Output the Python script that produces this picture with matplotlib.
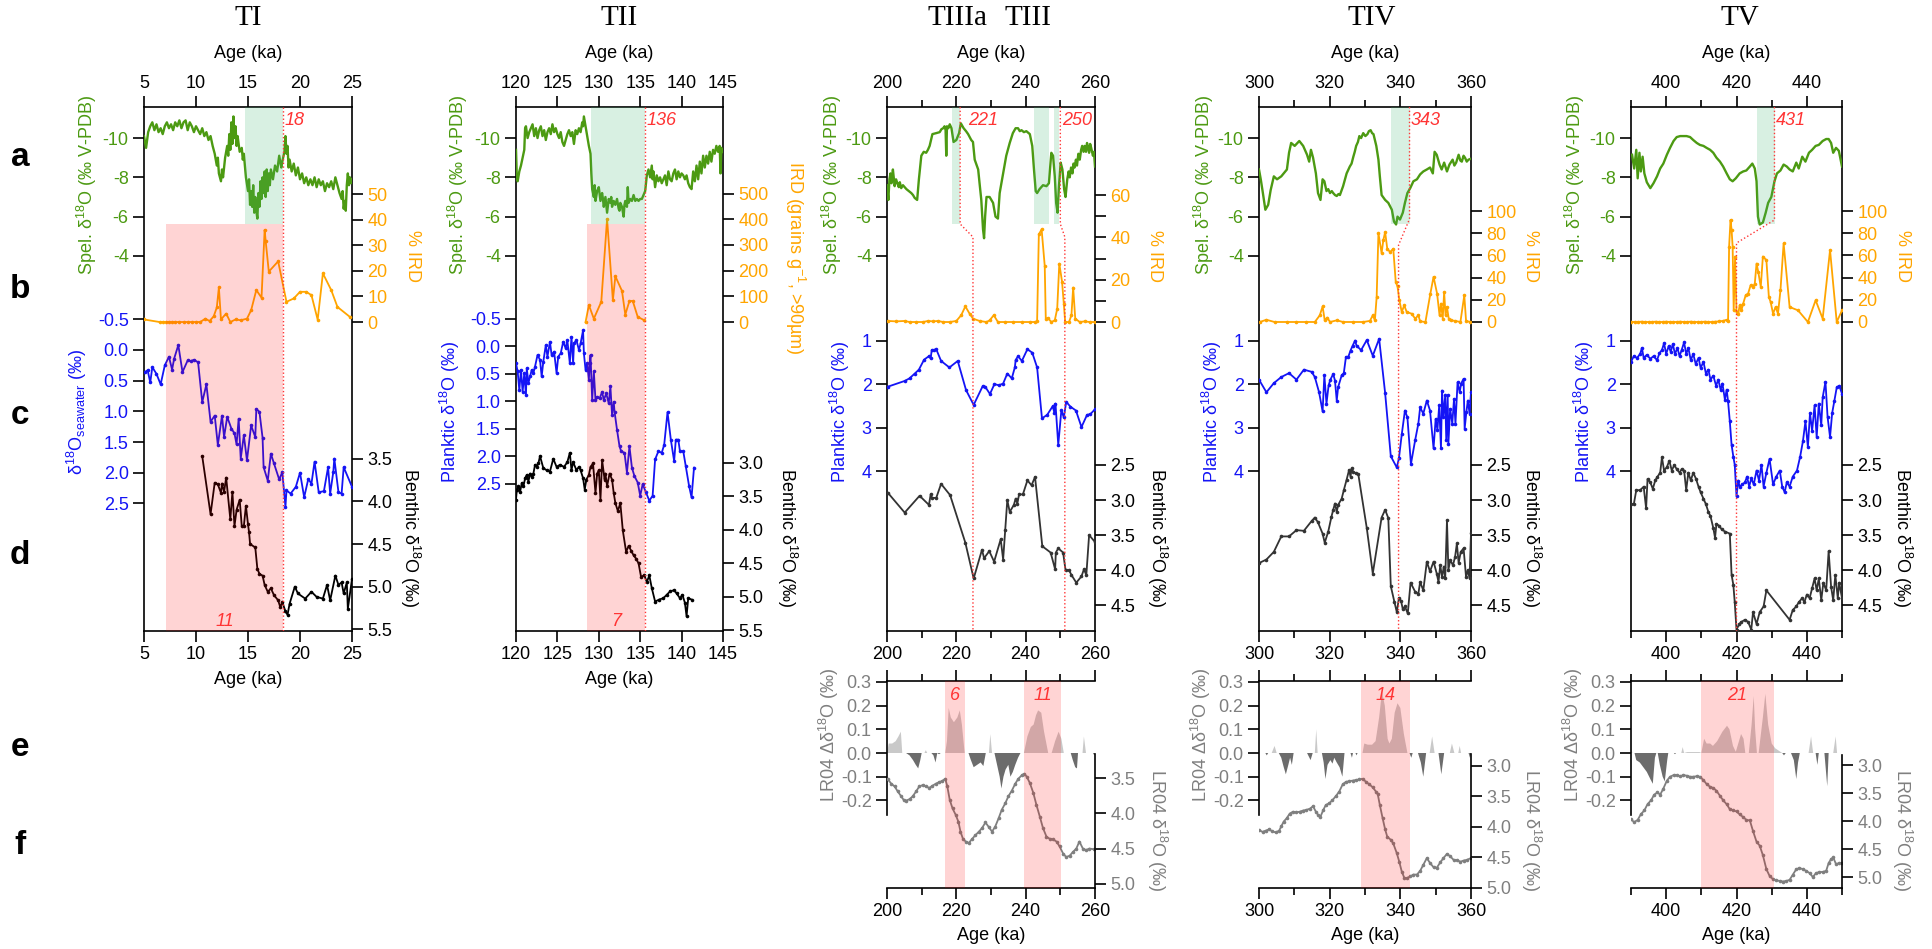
import numpy as np
import matplotlib.pyplot as plt
from matplotlib.ticker import FormatStrFormatter

plt.rcParams['font.family'] = ['Liberation Sans', 'DejaVu Sans']
plt.rcParams['mathtext.fontset'] = 'custom'
plt.rcParams['mathtext.rm'] = 'Liberation Sans'
plt.rcParams['mathtext.it'] = 'Liberation Sans:italic'
plt.rcParams['axes.unicode_minus'] = False

# ---------------- TI (5-25 ka) ----------------
ti_spel = np.array([(5.0,-10.1),(5.2,-9.5),(5.4,-10.3),(5.6,-10.6),(5.8,-10.8),(6.0,-10.4),(6.2,-10.7),(6.4,-10.3),(6.6,-10.5),(6.8,-10.2),(7.0,-10.6),(7.2,-10.8),(7.4,-10.5),(7.6,-10.7),(7.8,-10.4),(8.0,-10.8),(8.2,-10.6),(8.4,-10.9),(8.6,-10.5),(8.8,-10.8),(9.0,-10.9),(9.2,-10.4),(9.4,-10.8),(9.6,-10.6),(9.8,-10.3),(10.0,-10.6),(10.2,-10.4),(10.4,-10.2),(10.6,-10.5),(10.8,-10.1),(11.0,-10.3),(11.2,-9.9),(11.4,-10.1),(11.6,-9.6),(11.8,-9.2),(12.0,-8.6),(12.1,-9.0),(12.2,-8.2),(12.4,-7.8),(12.5,-8.4),(12.6,-8.0),(12.8,-9.0),(13.0,-9.6),(13.1,-9.1),(13.2,-10.2),(13.3,-9.4),(13.4,-10.8),(13.5,-9.7),(13.6,-11.1),(13.7,-10.0),(13.8,-10.6),(13.9,-9.6),(14.0,-10.1),(14.2,-9.3),(14.4,-9.5),(14.5,-8.9),(14.6,-9.2),(14.8,-8.0),(15.0,-7.3),(15.1,-7.9),(15.2,-6.6),(15.3,-7.3),(15.4,-6.5),(15.5,-7.6),(15.6,-6.2),(15.7,-7.0),(15.8,-6.3),(15.9,-5.9),(16.0,-7.2),(16.1,-6.5),(16.2,-7.8),(16.3,-6.9),(16.4,-8.0),(16.5,-7.2),(16.6,-8.3),(16.7,-7.0),(16.8,-8.4),(16.9,-7.3),(17.0,-8.2),(17.1,-7.6),(17.2,-8.4),(17.4,-7.9),(17.6,-8.6),(17.8,-8.3),(18.0,-9.1),(18.2,-8.5),(18.3,-8.8),(18.5,-9.3),(18.6,-10.1),(18.7,-9.2),(18.8,-9.6),(18.9,-8.5),(19.0,-8.9),(19.2,-8.3),(19.4,-8.7),(19.6,-8.1),(19.8,-8.5),(20.0,-7.9),(20.2,-8.2),(20.4,-7.7),(20.6,-8.0),(20.8,-7.6),(21.0,-7.9),(21.2,-7.6),(21.4,-8.0),(21.6,-7.5),(21.8,-7.9),(22.0,-7.6),(22.2,-7.8),(22.4,-7.3),(22.6,-7.7),(22.8,-7.5),(23.0,-7.8),(23.2,-7.4),(23.4,-8.0),(23.6,-7.6),(23.8,-7.2),(24.0,-6.9),(24.1,-7.3),(24.2,-6.4),(24.3,-6.8),(24.4,-6.3),(24.5,-7.6),(24.6,-8.2),(24.7,-7.6),(24.8,-8.0),(24.9,-7.7),(25.0,-7.9)])
ti_ird = np.array([(5.0,1),(6.5,0),(6.8,0),(7.1,0),(7.4,0),(7.7,0),(8.0,0),(8.4,0),(8.8,0),(9.2,0),(9.6,0),(10.0,0),(10.4,0),(10.9,1.3),(11.3,0.4),(11.7,2.2),(12.0,5.7),(12.2,13.5),(12.4,1),(12.9,3.3),(13.3,0),(13.8,1),(14.3,0.7),(14.9,1.3),(15.3,4.6),(15.8,12.5),(16.3,9.5),(16.6,36),(16.7,31.6),(17.0,19.7),(17.9,23.7),(18.7,7.9),(19.4,9.2),(20.0,11.8),(20.6,11.8),(21.1,10.5),(21.7,0.9),(22.2,19),(23.0,12.5),(23.6,5.9),(24.8,2)])
ti_sw = np.array([(5.1,0.36),(5.35,0.33),(5.6,0.53),(5.8,0.28),(6.2,0.39),(6.6,0.56),(7.0,0.25),(7.4,0.11),(7.7,0.32),(7.9,0.14),(8.3,-0.08),(8.7,0.36),(9.2,0.17),(9.5,0.18),(9.8,0.16),(10.2,0.2),(10.6,0.85),(11.0,0.56),(11.4,1.17),(11.8,1.07),(12.1,1.55),(12.5,1.07),(12.7,1.42),(13.0,1.09),(13.4,1.28),(13.7,1.36),(13.9,1.54),(14.1,1.12),(14.3,1.77),(14.6,1.39),(14.9,1.8),(15.3,1.23),(15.7,1.42),(15.8,0.96),(16.1,1.01),(16.4,1.43),(16.5,1.91),(16.9,2.13),(17.2,1.69),(17.5,1.85),(18.0,2.11),(18.3,1.99),(18.6,2.56),(18.7,2.29),(19.1,2.34),(19.6,2.23),(20.0,2.0),(20.4,2.4),(20.8,2.1),(21.1,2.18),(21.4,1.82),(21.8,2.32),(22.3,2.3),(22.7,1.91),(22.9,2.34),(23.2,1.99),(23.3,1.77),(23.7,2.32),(24.0,2.34),(24.2,1.91),(25.0,2.23)])
ti_ben = np.array([(10.6,3.47),(11.4,4.15),(11.8,3.78),(12.1,3.8),(12.4,3.9),(12.5,3.79),(12.7,3.89),(12.9,3.72),(13.3,4.21),(13.5,3.89),(13.7,4.29),(13.9,4.1),(14.2,3.98),(14.4,4.29),(14.6,4.29),(14.8,4.05),(15.0,4.27),(15.1,4.36),(15.2,4.5),(15.7,4.54),(15.9,4.79),(16.1,4.85),(16.4,4.87),(16.6,4.98),(16.9,5.06),(17.2,5.02),(17.5,5.1),(17.9,5.16),(18.1,5.24),(18.3,5.18),(18.6,5.29),(18.8,5.33),(19.0,5.2),(19.5,5.0),(19.8,5.08),(20.5,5.14),(21.1,5.06),(21.6,5.12),(22.2,5.14),(22.6,4.98),(22.9,5.16),(23.4,4.87),(23.7,4.98),(24.0,4.95),(24.2,5.08),(24.5,4.95),(24.6,5.26),(25.0,4.91)])

# ---------------- TII (120-145 ka) ----------------
tii_spel = np.array([(120.0,-9.4),(120.1,-8.0),(120.2,-7.8),(120.4,-8.3),(120.6,-8.6),(120.8,-9.0),(121.0,-9.4),(121.1,-10.5),(121.2,-10.6),(121.4,-10.0),(121.6,-10.3),(121.8,-10.5),(122.0,-10.7),(122.2,-10.1),(122.4,-10.5),(122.6,-10.0),(122.8,-10.4),(123.0,-10.6),(123.2,-10.1),(123.4,-10.4),(123.6,-9.9),(123.8,-10.3),(124.0,-10.5),(124.2,-10.2),(124.4,-10.7),(124.6,-10.3),(124.8,-10.5),(125.0,-10.2),(125.2,-10.0),(125.4,-10.3),(125.6,-9.8),(125.8,-9.6),(126.0,-9.9),(126.2,-10.2),(126.4,-10.4),(126.6,-10.1),(126.8,-10.3),(127.0,-9.7),(127.2,-10.4),(127.4,-10.2),(127.6,-10.5),(127.8,-10.3),(128.0,-10.8),(128.1,-10.6),(128.2,-11.1),(128.4,-10.6),(128.6,-10.1),(128.8,-9.6),(129.0,-9.2),(129.1,-8.2),(129.2,-7.4),(129.4,-7.0),(129.5,-7.6),(129.6,-6.8),(129.8,-7.3),(130.0,-7.5),(130.2,-6.8),(130.4,-7.2),(130.5,-6.9),(130.6,-6.5),(130.8,-7.0),(131.0,-6.2),(131.2,-6.9),(131.4,-6.7),(131.5,-7.0),(131.6,-6.5),(131.8,-6.8),(132.0,-6.6),(132.2,-6.9),(132.4,-6.4),(132.5,-6.3),(132.6,-6.7),(132.8,-6.5),(133.0,-6.0),(133.1,-6.6),(133.2,-6.8),(133.4,-6.5),(133.5,-7.5),(133.6,-6.7),(133.8,-6.9),(134.0,-6.8),(134.2,-7.1),(134.4,-6.8),(134.6,-6.9),(134.8,-6.8),(135.0,-6.9),(135.2,-6.9),(135.4,-7.1),(135.6,-7.3),(135.8,-8.1),(136.0,-8.4),(136.2,-8.0),(136.4,-8.6),(136.5,-7.9),(136.6,-8.3),(136.8,-7.5),(137.0,-8.1),(137.2,-7.8),(137.4,-8.0),(137.6,-7.7),(137.8,-7.9),(138.0,-8.1),(138.2,-7.6),(138.4,-8.3),(138.6,-7.9),(138.8,-7.8),(139.0,-8.2),(139.2,-8.4),(139.4,-7.9),(139.6,-8.3),(139.8,-8.0),(140.0,-8.2),(140.2,-8.1),(140.4,-7.9),(140.6,-8.1),(140.8,-7.7),(141.0,-7.5),(141.2,-7.4),(141.4,-8.3),(141.6,-7.8),(141.8,-8.6),(142.0,-7.9),(142.2,-8.8),(142.4,-8.2),(142.6,-9.1),(142.8,-8.5),(143.0,-9.1),(143.2,-8.7),(143.4,-9.3),(143.6,-8.8),(143.8,-9.4),(144.0,-9.2),(144.2,-9.6),(144.4,-9.3),(144.6,-9.6),(144.7,-8.2),(144.8,-9.5),(145.0,-9.3)])
tii_ird = np.array([(128.4,0),(128.8,66),(129.4,13),(130.3,79),(131.0,401),(131.7,85),(132.0,178),(132.8,121),(133.2,29),(133.7,82),(134.1,82),(134.7,20),(135.5,7)])
tii_plank = np.array([(120.0,0.31),(120.2,0.46),(120.4,0.8),(120.6,0.43),(120.8,0.83),(121.0,0.49),(121.2,0.89),(121.3,0.4),(121.5,0.67),(121.7,0.55),(121.9,0.43),(122.1,0.49),(122.3,0.37),(122.6,0.16),(122.9,0.25),(123.1,0.55),(123.3,0.28),(123.6,-0.02),(123.8,0.19),(124.1,-0.08),(124.3,0.16),(124.6,0.1),(124.9,0.49),(125.1,0.19),(125.4,0.13),(125.7,-0.08),(126.0,0.04),(126.2,-0.11),(126.5,0.31),(126.7,-0.17),(126.9,0.31),(127.0,-0.05),(127.3,-0.11),(127.6,0.07),(127.8,-0.05),(128.1,-0.29),(128.2,0.13),(128.4,0.43),(128.6,0.31),(128.8,0.61),(128.9,0.31),(129.0,0.16),(129.2,0.98),(129.4,0.46),(129.6,0.98),(129.8,0.92),(130.1,0.95),(130.4,0.83),(130.6,0.98),(130.9,0.86),(131.2,1.04),(131.4,0.73),(131.6,1.25),(131.8,1.01),(131.9,1.19),(132.2,1.52),(132.5,1.82),(132.7,1.91),(133.1,1.94),(133.4,2.3),(133.7,1.82),(134.0,2.21),(134.3,2.36),(134.7,2.48),(135.0,2.72),(135.3,2.51),(135.7,2.66),(136.1,2.81),(136.5,2.72),(136.8,2.06),(137.2,1.91),(137.6,1.94),(137.9,1.79),(138.3,1.2),(138.7,1.7),(139.1,2.09),(139.3,1.7),(139.6,1.7),(139.8,1.91),(140.2,1.91),(140.5,2.18),(140.9,2.54),(141.2,2.75),(141.5,2.21)])
tii_ben = np.array([(120.0,3.55),(120.1,3.4),(120.3,3.35),(120.5,3.43),(120.7,3.3),(120.9,3.35),(121.1,3.23),(121.3,3.18),(121.5,3.28),(121.7,3.16),(121.9,3.21),(122.1,3.16),(122.3,3.03),(122.5,3.06),(122.7,3.01),(122.9,2.9),(123.3,3.08),(123.7,3.11),(124.1,3.13),(124.5,2.94),(124.9,3.06),(125.3,3.03),(125.8,3.06),(126.2,2.99),(126.5,2.85),(126.7,3.11),(126.9,2.99),(127.3,3.11),(127.6,3.06),(127.8,3.11),(128.1,3.23),(128.3,3.4),(128.5,3.25),(128.8,3.18),(129.0,3.06),(129.3,3.01),(129.6,3.45),(129.8,3.16),(130.0,3.11),(130.2,3.55),(130.4,2.96),(130.7,3.25),(130.8,3.16),(131.0,3.35),(131.3,3.16),(131.6,3.25),(131.8,3.45),(132.0,3.6),(132.3,3.72),(132.6,3.6),(132.9,4.01),(133.3,4.33),(133.6,4.24),(133.9,4.31),(134.2,4.38),(134.5,4.43),(134.8,4.5),(135.1,4.7),(135.5,4.68),(135.8,4.78),(136.1,4.68),(136.4,4.87),(136.8,5.07),(137.3,5.04),(137.8,5.02),(138.2,4.97),(138.6,4.92),(139.1,4.9),(139.4,4.95),(139.8,5.02),(140.1,4.97),(140.4,5.09),(140.6,5.29),(140.8,5.02),(141.2,5.04)])

# ---------------- TIII (200-260 ka) ----------------
tiii_spel = np.array([(200.0,-7.6),(200.4,-6.85),(200.7,-7.9),(201.0,-8.2),(201.3,-7.7),(201.7,-8.4),(202.0,-7.9),(202.2,-7.55),(202.6,-7.9),(203.0,-7.7),(203.4,-7.5),(203.7,-7.75),(204.1,-7.45),(204.6,-7.6),(205.1,-7.5),(205.6,-7.4),(206.3,-7.3),(207.0,-7.2),(207.5,-7.1),(208.0,-6.95),(208.7,-6.85),(209.2,-7.9),(209.9,-9.1),(210.6,-9.3),(211.3,-9.25),(211.8,-9.4),(212.3,-9.6),(213.1,-10.2),(214.2,-10.25),(215.2,-10.3),(215.7,-10.45),(216.2,-10.5),(216.6,-10.6),(216.9,-10.4),(217.1,-9.1),(217.3,-10.6),(217.7,-10.5),(218.1,-10.7),(218.6,-10.5),(219.2,-9.8),(220.0,-9.9),(220.8,-10.25),(221.3,-10.75),(222.1,-10.5),(222.8,-10.35),(223.4,-10.2),(224.3,-9.9),(224.8,-9.8),(225.3,-8.9),(226.3,-8.4),(226.7,-7.7),(227.2,-6.85),(227.7,-5.35),(228.0,-4.9),(228.3,-6.0),(228.7,-7.0),(229.6,-7.0),(230.6,-6.7),(231.3,-6.0),(232.0,-5.9),(232.5,-7.2),(233.5,-8.2),(234.4,-9.1),(235.4,-9.75),(236.3,-10.25),(237.1,-10.5),(237.8,-10.5),(238.3,-10.35),(238.8,-10.4),(239.5,-10.3),(240.2,-10.35),(241.2,-10.2),(241.9,-9.6),(242.4,-8.4),(242.9,-7.3),(243.3,-7.2),(244.0,-7.4),(245.0,-7.6),(246.0,-7.55),(246.7,-7.7),(247.4,-9.25),(247.9,-9.1),(248.4,-8.05),(248.8,-6.7),(249.2,-6.2),(249.6,-7.55),(250.1,-8.75),(250.6,-8.4),(251.1,-7.4),(251.5,-7.0),(252.0,-7.9),(252.4,-8.3),(252.7,-8.0),(253.1,-8.5),(253.5,-8.2),(253.8,-8.7),(254.1,-8.5),(254.5,-8.9),(254.8,-8.6),(255.2,-9.2),(255.6,-8.9),(256.0,-9.4),(256.3,-9.6),(256.7,-9.3),(257.0,-9.6),(257.4,-9.3),(257.7,-9.75),(258.0,-9.5),(258.3,-9.25),(258.6,-9.7),(258.9,-9.5),(259.4,-9.1),(259.7,-9.3),(260.0,-8.55)])
tiii_ird = np.array([(200.3,0.5),(202.7,0.3),(205.1,0.5),(206.5,0),(208.5,0),(210.4,0),(211.8,0.5),(213.3,0.3),(214.7,0.5),(216.2,0),(218.1,0),(220.0,0.5),(221.4,3.2),(222.6,7.4),(223.8,4),(224.8,1.6),(226.7,0.5),(228.7,0),(229.6,0.8),(230.8,3.2),(232.0,0),(233.9,0),(236.3,0),(238.8,0),(241.2,0),(242.6,0),(243.3,0.3),(243.8,41.4),(244.6,43.8),(245.5,26.5),(245.8,1.6),(246.4,1.9),(247.4,0),(248.4,0.8),(249.1,6.3),(249.7,27.6),(250.5,19),(251.0,8.7),(251.4,0),(252.5,0),(253.2,3.2),(253.7,16.3),(254.3,1.6),(255.6,0),(257.0,0.3),(258.5,0),(260.0,0)])
tiii_plank = np.array([(200.3,2.05),(205.1,1.92),(206.5,1.86),(208.0,1.75),(209.2,1.66),(210.7,1.43),(212.1,1.35),(212.6,1.4),(212.9,1.21),(213.5,1.21),(214.2,1.19),(215.6,1.46),(218.0,1.61),(220.4,1.46),(222.8,2.13),(225.0,2.47),(227.6,2.04),(228.3,2.05),(229.7,2.22),(231.0,1.99),(232.2,2.02),(233.5,1.98),(234.7,1.75),(236.0,1.86),(236.9,1.6),(237.1,1.44),(237.8,1.35),(238.9,1.46),(240.5,1.19),(241.9,1.27),(243.3,1.61),(244.7,2.78),(246.2,2.7),(247.8,2.5),(248.3,2.66),(248.6,2.44),(249.4,3.39),(250.3,2.59),(251.0,2.76),(251.7,2.4),(252.9,2.51),(254.5,2.6),(256.1,2.98),(257.7,2.7),(258.7,2.68),(260.0,2.57)])
tiii_ben = np.array([(200.3,2.9),(205.1,3.18),(209.4,2.94),(212.1,3.07),(212.6,2.92),(213.0,2.97),(214.2,2.97),(215.6,2.77),(218.2,2.93),(222.6,3.61),(225.0,4.12),(227.4,3.71),(228.0,3.83),(229.5,3.73),(230.9,3.88),(232.8,3.56),(233.5,3.85),(234.1,3.43),(234.7,3.0),(235.4,3.17),(236.6,3.07),(237.1,2.98),(237.6,3.05),(238.1,2.92),(239.2,2.92),(240.5,2.72),(241.7,2.79),(242.7,2.67),(244.8,3.66),(247.2,3.75),(248.5,3.99),(248.7,3.75),(249.4,3.69),(250.8,3.75),(251.5,4.0),(252.5,4.0),(253.2,4.07),(254.6,4.18),(256.1,4.09),(256.8,3.99),(257.5,4.07),(258.3,3.5),(260.0,3.6)])
tiii_lr04 = np.array([(200.3,3.52),(201.2,3.58),(202.2,3.62),(203.1,3.69),(204.1,3.76),(204.8,3.81),(205.5,3.82),(206.5,3.8),(207.4,3.76),(208.4,3.69),(209.3,3.62),(210.3,3.6),(211.2,3.62),(212.2,3.64),(213.1,3.61),(214.1,3.58),(215.0,3.56),(216.0,3.54),(216.8,3.51),(217.4,3.62),(218.1,3.81),(218.9,3.93),(219.8,4.02),(220.6,4.12),(221.2,4.26),(221.9,4.36),(222.7,4.4),(223.6,4.42),(224.6,4.36),(225.5,4.31),(226.5,4.26),(227.4,4.21),(228.4,4.13),(229.3,4.19),(230.3,4.26),(231.2,4.19),(232.2,4.07),(233.1,3.95),(234.1,3.86),(235.0,3.76),(236.0,3.68),(237.0,3.58),(237.9,3.51),(238.9,3.46),(239.6,3.44),(240.3,3.48),(241.2,3.57),(242.2,3.71),(243.1,3.88),(244.1,4.05),(245.0,4.21),(246.0,4.33),(246.9,4.36),(247.9,4.37),(248.9,4.4),(249.8,4.47),(250.8,4.57),(251.7,4.62),(252.7,4.6),(253.6,4.55),(254.6,4.5),(255.5,4.4),(256.5,4.5),(257.4,4.52),(258.4,4.5),(259.8,4.51)])
tiii_delta = np.array([(200.0,0.0),(200.5,0.04),(201.5,0.04),(202.5,0.05),(203.3,0.07),(204.0,0.09),(204.4,0.0),(205.5,0.0),(206.5,-0.01),(207.5,-0.03),(208.3,-0.05),(209.0,-0.065),(209.6,-0.03),(210.0,0.0),(210.8,0.0),(211.2,0.012),(211.6,0.0),(212.8,0.0),(213.4,-0.01),(214.0,-0.04),(214.5,0.0),(215.0,-0.005),(215.5,0.0),(216.8,0.0),(217.3,0.05),(217.8,0.19),(218.4,0.15),(219.3,0.13),(220.3,0.15),(221.0,0.18),(221.6,0.12),(222.4,0.0),(223.5,0.0),(224.2,-0.03),(225.0,-0.06),(226.0,-0.05),(227.0,-0.04),(227.8,-0.055),(228.5,0.0),(229.4,0.0),(229.8,0.08),(230.3,0.0),(231.0,0.0),(231.6,-0.04),(232.5,-0.1),(233.0,-0.15),(233.6,-0.1),(234.2,-0.07),(235.0,-0.05),(235.6,-0.1),(236.3,-0.08),(237.0,-0.05),(237.8,-0.02),(238.5,0.0),(239.5,0.0),(240.5,0.07),(241.5,0.11),(242.3,0.12),(243.0,0.16),(243.6,0.18),(244.5,0.17),(245.3,0.09),(246.5,0.0),(247.5,0.0),(248.5,0.05),(249.5,0.09),(250.3,0.06),(251.0,0.0),(253.0,0.0),(253.6,-0.03),(254.3,-0.06),(254.8,-0.065),(255.1,0.0),(256.4,0.0),(256.8,0.07),(257.4,0.0),(259.4,0.0),(259.8,-0.01),(260.0,0.0)])

# ---------------- TIV (300-360 ka) ----------------
tiv_spel = np.array([(300.0,-8.4),(300.5,-7.9),(301.1,-7.2),(301.8,-6.35),(302.6,-6.6),(303.3,-7.35),(304.2,-8.05),(305.1,-7.9),(306.3,-8.05),(307.9,-8.4),(308.5,-9.25),(309.1,-9.75),(310.1,-9.6),(311.4,-9.85),(312.5,-9.6),(313.6,-9.15),(314.2,-8.8),(314.7,-9.4),(315.3,-9.0),(316.1,-8.2),(316.7,-7.2),(317.4,-6.85),(318.0,-7.9),(318.5,-7.8),(319.1,-7.3),(319.6,-7.4),(320.1,-7.2),(320.6,-7.3),(321.0,-7.2),(321.5,-7.1),(322.0,-7.05),(322.5,-7.15),(322.9,-7.1),(323.8,-7.55),(324.8,-8.2),(325.7,-8.55),(326.2,-8.7),(326.7,-9.05),(327.1,-9.3),(327.5,-9.6),(328.0,-9.8),(328.4,-10.1),(328.9,-10.0),(329.5,-10.25),(330.1,-10.1),(330.7,-10.2),(331.1,-10.35),(331.6,-10.4),(332.0,-10.25),(332.4,-10.2),(333.2,-9.6),(333.8,-8.9),(334.2,-8.05),(334.7,-7.1),(335.7,-6.85),(336.6,-6.7),(337.6,-6.35),(338.2,-5.75),(338.8,-5.6),(339.2,-6.0),(339.9,-5.85),(340.7,-6.2),(341.3,-6.7),(342.0,-7.2),(342.8,-7.45),(343.7,-7.8),(344.7,-7.9),(345.6,-8.15),(346.5,-8.3),(347.5,-8.4),(348.4,-8.5),(349.2,-8.2),(349.7,-9.3),(350.3,-9.15),(351.1,-8.65),(351.7,-8.4),(352.4,-8.75),(353.2,-8.3),(353.9,-8.65),(354.8,-8.9),(355.3,-8.6),(355.8,-8.75),(356.5,-9.15),(357.0,-8.85),(357.4,-8.8),(357.9,-9.1),(358.3,-9.0),(358.8,-8.8),(359.3,-8.9),(360.0,-8.95)])
tiv_ird = np.array([(300.2,0),(302.1,2),(304.4,0),(307.8,0),(310.6,0),(313.4,0),(315.8,0),(317.2,6),(318.0,14),(318.6,1.5),(319.3,4),(320.1,0),(322.0,1.5),(323.8,0),(326.7,0),(329.5,0),(331.4,1),(332.2,6),(332.8,1.5),(333.3,22.6),(333.8,80),(334.7,62),(335.2,74),(335.7,81),(336.3,66),(337.1,63),(338.0,66),(338.7,36),(339.2,32),(339.7,20),(340.4,9),(341.1,15),(341.8,9),(343.2,7.5),(344.2,3),(345.1,6),(345.6,0.6),(347.1,0),(348.5,25.6),(349.4,40.7),(350.4,25.6),(351.1,6),(351.5,16.6),(352.0,3),(352.4,27),(352.8,6),(353.2,13.5),(353.7,3),(354.3,1.5),(355.5,1),(357.0,0),(358.1,24),(358.6,1),(359.8,0)])
tiv_plank = np.array([(300.0,1.89),(302.1,2.18),(304.2,1.97),(306.3,1.83),(308.5,1.74),(310.6,1.89),(312.7,1.66),(314.9,1.71),(315.8,1.83),(317.0,2.18),(318.0,2.62),(318.5,1.79),(319.1,2.44),(319.7,2.02),(320.2,1.89),(321.0,1.76),(321.5,1.91),(322.0,2.37),(322.4,2.06),(323.4,1.79),(324.0,1.74),(324.6,1.37),(325.3,1.36),(325.9,1.22),(326.5,1.11),(327.2,0.99),(327.6,1.11),(328.9,1.21),(330.5,0.98),(332.2,1.34),(334.0,0.95),(335.7,2.2),(337.3,3.65),(339.0,3.91),(339.6,3.7),(340.4,3.15),(341.3,2.6),(342.0,2.76),(343.0,3.83),(344.2,3.28),(345.1,2.9),(345.6,2.53),(346.5,2.67),(347.5,2.37),(348.4,2.6),(349.4,3.47),(350.0,2.79),(350.5,3.05),(351.0,2.48),(351.5,3.47),(351.8,2.14),(352.2,2.75),(352.7,2.25),(353.0,3.28),(353.4,2.25),(353.6,3.36),(354.1,2.56),(354.7,2.9),(355.2,2.33),(355.6,2.9),(356.2,1.95),(356.8,2.18),(357.2,1.98),(357.9,1.87),(358.2,3.02),(358.7,2.63),(359.1,2.37),(359.6,2.67),(360.0,2.18)])
tiv_ben = np.array([(300.0,3.9),(302.1,3.85),(304.2,3.74),(306.3,3.52),(308.5,3.52),(310.6,3.43),(312.7,3.44),(314.9,3.3),(315.8,3.25),(316.7,3.32),(318.0,3.48),(318.6,3.61),(319.6,3.45),(320.5,3.24),(321.0,3.14),(321.5,3.05),(322.0,3.17),(322.4,3.07),(323.4,2.98),(324.0,2.86),(324.8,2.71),(325.5,2.57),(325.9,2.67),(326.2,2.55),(326.7,2.6),(327.5,2.62),(328.1,2.63),(330.5,3.4),(332.2,4.05),(334.7,3.25),(335.7,3.14),(336.6,3.26),(337.3,4.23),(338.3,4.45),(339.0,4.6),(339.6,4.4),(340.2,4.44),(340.7,4.56),(341.3,4.52),(342.1,4.62),(342.9,4.18),(344.2,4.31),(345.1,4.34),(345.6,4.17),(346.5,4.29),(347.5,3.88),(348.4,4.02),(349.4,3.88),(350.3,4.05),(350.8,4.17),(351.3,3.93),(351.8,4.1),(352.3,3.95),(352.7,4.12),(353.2,3.29),(353.6,4.0),(354.1,3.86),(354.9,3.93),(355.5,3.81),(356.0,3.62),(356.5,3.9),(357.1,3.74),(357.9,3.69),(358.6,4.1),(359.1,4.0),(359.6,4.12),(360.0,3.47)])
tiv_lr04 = np.array([(300.0,4.05),(301.0,4.08),(301.9,4.06),(302.8,4.04),(303.8,4.07),(304.7,4.09),(305.7,4.06),(306.3,3.99),(307.0,3.91),(307.8,3.86),(308.7,3.78),(309.6,3.75),(310.6,3.76),(311.5,3.75),(312.5,3.73),(313.4,3.72),(314.4,3.7),(315.3,3.66),(316.1,3.75),(316.7,3.8),(317.4,3.83),(318.2,3.72),(318.9,3.64),(319.9,3.61),(320.8,3.56),(321.8,3.49),(322.7,3.42),(323.7,3.3),(324.6,3.26),(325.5,3.25),(326.5,3.24),(327.4,3.23),(328.4,3.22),(329.3,3.21),(330.3,3.26),(331.2,3.3),(332.2,3.35),(333.1,3.42),(333.6,3.46),(334.2,3.64),(335.0,3.86),(335.7,4.04),(336.3,4.16),(337.3,4.21),(338.0,4.27),(339.0,4.43),(339.7,4.57),(340.4,4.73),(341.1,4.83),(341.8,4.84),(342.8,4.81),(343.7,4.78),(344.7,4.78),(345.6,4.72),(346.5,4.62),(347.5,4.51),(348.4,4.59),(349.4,4.66),(350.3,4.67),(351.3,4.58),(352.2,4.51),(353.2,4.44),(354.1,4.48),(355.1,4.54),(356.0,4.54),(357.0,4.57),(357.9,4.55),(358.8,4.54),(360.0,4.51)])
tiv_delta = np.array([(300.0,0.0),(301.8,0.0),(302.2,-0.01),(302.6,0.0),(303.6,0.0),(304.4,0.03),(305.0,0.0),(305.6,0.0),(306.3,-0.02),(307.0,-0.06),(307.6,-0.09),(308.3,-0.05),(308.8,-0.02),(309.3,-0.05),(309.8,0.0),(313.6,0.0),(314.6,-0.03),(315.2,0.0),(315.8,0.0),(316.2,0.1),(316.6,0.0),(317.8,0.0),(318.3,-0.04),(318.8,-0.11),(319.4,-0.05),(320.2,-0.03),(320.8,-0.045),(321.3,-0.02),(322.0,-0.04),(322.8,-0.06),(323.6,-0.1),(324.2,0.0),(325.9,0.0),(326.3,-0.02),(326.6,0.0),(327.3,0.0),(327.6,-0.01),(327.9,0.0),(329.3,0.0),(329.8,0.04),(330.8,0.035),(332.0,0.035),(333.0,0.05),(334.0,0.15),(334.8,0.26),(335.6,0.2),(336.4,0.06),(336.9,0.04),(337.6,0.06),(338.4,0.17),(339.2,0.21),(340.0,0.19),(341.0,0.08),(342.0,0.0),(342.6,0.0),(343.1,-0.02),(343.5,0.0),(345.0,0.0),(345.8,-0.04),(346.5,-0.1),(347.3,0.0),(348.3,0.0),(349.0,0.07),(349.7,0.0),(350.8,0.0),(351.6,-0.09),(352.4,0.0),(354.0,0.0),(354.6,0.04),(355.3,0.0),(356.4,0.0),(356.8,0.03),(357.2,0.0),(359.3,0.0),(359.7,-0.02),(360.0,0.0)])

# ---------------- TV (390-450 ka) ----------------
tv_spel = np.array([(390.3,-9.15),(390.9,-8.45),(391.5,-9.4),(391.9,-7.95),(392.4,-9.25),(392.8,-8.3),(393.3,-9.05),(393.8,-8.2),(394.5,-7.75),(395.5,-7.45),(396.4,-7.7),(397.4,-8.05),(398.3,-8.45),(399.2,-8.7),(400.2,-9.15),(401.1,-9.5),(402.1,-9.85),(403.0,-10.05),(404.0,-10.1),(404.9,-10.1),(405.8,-10.1),(406.8,-10.05),(407.7,-9.9),(408.7,-9.75),(409.6,-9.65),(410.6,-9.6),(411.5,-9.5),(412.5,-9.4),(413.4,-9.25),(414.3,-9.0),(415.3,-8.8),(416.2,-8.55),(417.2,-8.2),(418.1,-7.9),(418.9,-7.8),(419.8,-7.95),(420.9,-8.2),(421.9,-8.3),(422.8,-8.35),(423.8,-8.55),(424.5,-8.7),(425.2,-8.45),(425.7,-7.8),(426.1,-6.0),(426.6,-5.6),(427.5,-5.7),(428.3,-6.2),(429.0,-6.7),(429.9,-7.0),(430.8,-7.8),(431.5,-8.2),(432.5,-8.35),(433.4,-8.65),(434.3,-8.55),(435.1,-8.4),(436.0,-8.3),(437.0,-8.75),(437.7,-8.45),(438.7,-9.05),(439.6,-8.8),(440.6,-9.25),(441.5,-9.4),(442.5,-9.6),(443.4,-9.65),(444.5,-9.85),(445.5,-9.95),(446.2,-9.95),(446.9,-9.75),(447.5,-9.25),(448.3,-9.5),(449.1,-9.35),(450.0,-8.55)])
tv_ird = np.array([(390.0,0),(391.0,0),(392.0,0),(393.0,0.3),(394.0,0),(395.0,0),(396.0,0),(397.0,0.3),(398.0,0),(399.0,0),(400.0,0.3),(401.0,0),(402.0,0),(403.0,0),(404.0,0.3),(405.0,0),(406.0,0),(407.0,0.3),(408.0,0),(409.0,0),(410.0,0),(411.0,0.3),(412.0,0),(413.0,0),(414.0,0.3),(415.0,0.5),(416.2,1),(417.2,2),(417.6,1),(417.9,68),(418.3,92),(418.6,83),(418.9,68),(419.2,10.5),(419.6,59),(420.0,9),(420.5,7.5),(420.9,15),(421.4,10.5),(421.9,16.6),(422.6,24),(423.3,25.6),(424.0,33),(424.7,31.6),(425.2,34.6),(425.7,52.7),(426.2,45),(426.9,31.6),(427.5,59),(428.5,55.7),(429.2,22.6),(429.7,18),(430.4,7.5),(431.1,13.5),(431.8,7.5),(432.5,28.6),(433.4,70.8),(435.1,13.5),(437.5,10.5),(440.3,0),(442.5,19.6),(444.5,3),(446.6,64.8),(448.5,0),(450.0,10.5)])
tv_plank = np.array([(390.0,1.48),(390.8,1.35),(391.7,1.39),(392.6,1.3),(393.1,1.16),(393.6,1.39),(394.5,1.32),(395.5,1.41),(396.4,1.35),(397.4,1.44),(398.1,1.28),(398.8,1.21),(399.4,1.05),(400.0,1.3),(400.7,1.12),(401.3,1.25),(401.9,1.07),(402.5,1.3),(403.2,1.16),(403.8,1.35),(404.4,1.21),(405.1,1.03),(405.7,1.3),(406.3,1.16),(407.0,1.44),(407.7,1.3),(408.4,1.53),(409.2,1.39),(409.8,1.62),(410.6,1.48),(411.3,1.75),(412.0,1.66),(412.6,1.89),(413.4,1.8),(414.2,2.03),(414.8,1.89),(415.5,2.12),(416.0,1.98),(416.7,2.35),(417.2,2.12),(417.6,2.39),(418.1,2.85),(418.6,3.39),(419.1,3.66),(419.5,3.85),(420.0,4.57),(420.5,4.21),(420.9,4.35),(421.7,4.3),(422.4,4.25),(423.0,4.12),(423.6,4.35),(424.2,4.16),(424.9,4.3),(425.7,3.98),(426.4,4.21),(427.1,3.85),(427.7,4.35),(428.5,4.03),(429.4,3.71),(430.4,4.3),(431.3,4.12),(432.3,3.98),(433.0,4.35),(433.7,4.48),(434.3,4.25),(435.1,4.35),(436.0,4.12),(437.2,3.98),(438.1,3.66),(438.9,3.3),(439.6,2.85),(440.3,3.44),(440.9,2.66),(441.5,3.07),(442.2,2.48),(442.8,3.21),(443.4,2.44),(444.1,2.94),(444.5,2.3),(445.3,1.94),(445.9,2.75),(446.6,3.21),(447.2,2.66),(447.8,2.39),(448.5,2.07),(449.2,2.03),(450.0,2.21)])
tv_ben = np.array([(390.0,3.06),(390.8,3.06),(391.5,2.86),(392.6,2.86),(393.6,2.81),(394.3,3.12),(394.7,2.7),(395.5,2.75),(396.2,2.84),(396.9,2.72),(397.5,2.67),(398.3,2.61),(398.8,2.39),(399.4,2.58),(400.2,2.53),(400.9,2.44),(401.6,2.58),(402.3,2.5),(403.0,2.56),(403.8,2.61),(404.4,2.56),(405.1,2.58),(405.7,2.86),(406.3,2.61),(407.0,2.72),(407.7,2.61),(408.5,2.7),(409.2,2.81),(409.8,2.89),(410.6,2.98),(411.3,3.06),(412.0,3.17),(412.6,3.23),(413.4,3.4),(413.9,3.54),(414.3,3.34),(415.1,3.37),(415.8,3.42),(416.7,3.45),(418.1,3.48),(418.6,4.07),(419.1,4.21),(419.5,4.46),(420.0,4.85),(420.8,4.77),(421.4,4.74),(422.4,4.71),(423.3,4.74),(424.2,4.85),(424.7,4.6),(425.7,4.77),(426.6,4.6),(427.7,4.52),(428.5,4.29),(435.1,4.71),(436.0,4.57),(437.0,4.52),(437.7,4.46),(438.7,4.4),(439.3,4.46),(440.0,4.35),(440.8,4.4),(441.5,4.26),(442.2,4.12),(442.8,4.29),(443.4,4.12),(444.1,4.43),(444.7,4.18),(445.5,4.29),(446.2,3.73),(446.9,4.24),(447.5,4.43),(448.1,4.07),(448.8,4.4),(449.2,4.18),(450.0,4.4)])
tv_lr04 = np.array([(390.0,3.97),(390.9,4.02),(391.9,3.98),(392.8,3.88),(393.8,3.81),(394.7,3.7),(395.7,3.63),(396.6,3.53),(397.5,3.49),(398.3,3.53),(399.2,3.42),(400.2,3.28),(401.1,3.21),(402.1,3.18),(403.0,3.18),(404.0,3.2),(404.9,3.18),(405.8,3.19),(406.8,3.21),(407.7,3.21),(408.7,3.2),(409.6,3.21),(410.6,3.27),(411.5,3.34),(412.5,3.39),(413.4,3.41),(414.3,3.46),(415.3,3.55),(416.2,3.63),(417.2,3.7),(418.1,3.79),(419.1,3.81),(420.0,3.83),(420.9,3.88),(421.9,3.93),(422.8,3.98),(423.8,3.99),(424.7,4.18),(425.7,4.37),(426.6,4.44),(427.5,4.61),(428.5,4.86),(429.4,4.98),(430.4,5.04),(431.3,5.06),(432.3,5.07),(433.2,5.08),(434.2,5.07),(435.1,5.05),(436.0,4.96),(437.0,4.86),(437.9,4.84),(438.9,4.86),(439.8,4.89),(440.8,4.93),(441.7,5.0),(442.6,4.93),(443.6,4.91),(444.5,4.91),(445.5,4.89),(446.2,4.75),(446.9,4.68),(447.5,4.65),(448.3,4.77),(449.2,4.75),(450.0,4.75)])
tv_delta = np.array([(390.0,0.02),(390.4,0.0),(391.0,0.0),(391.5,-0.03),(392.5,-0.04),(393.5,-0.06),(394.5,-0.08),(395.5,-0.11),(396.2,-0.13),(396.8,-0.02),(397.2,0.0),(397.6,0.0),(398.2,-0.05),(399.0,-0.1),(399.6,-0.12),(400.3,-0.03),(400.6,0.0),(402.2,0.0),(402.5,-0.005),(402.8,0.0),(404.3,0.0),(404.7,0.025),(405.1,0.0),(406.0,0.004),(409.5,0.004),(410.0,0.0),(410.8,0.06),(411.5,0.04),(412.5,0.04),(413.3,0.03),(414.5,0.05),(416.0,0.09),(417.3,0.115),(418.0,0.1),(419.0,0.03),(419.8,0.005),(420.5,0.04),(421.3,0.08),(422.0,0.06),(422.5,0.0),(423.5,0.0),(424.3,0.12),(424.9,0.24),(425.3,0.1),(425.8,0.0),(426.3,0.0),(427.5,0.15),(428.2,0.25),(429.0,0.12),(430.0,0.04),(431.0,0.02),(432.0,0.01),(433.0,0.0),(433.5,-0.01),(434.0,0.0),(435.5,0.0),(436.3,-0.03),(437.0,-0.11),(437.5,-0.04),(438.0,0.0),(440.5,0.0),(441.2,0.07),(441.8,0.0),(442.5,0.0),(443.0,-0.05),(443.4,0.0),(445.0,0.0),(445.8,-0.14),(446.2,0.0),(447.5,0.0),(448.2,0.07),(448.6,0.0),(450.0,0.0)])

# onset ages (red dotted lines) and shaded intervals
onsets = [18.33, 135.58, 221.1, 250.0, 342.6, 430.8]
onset_lower = [18.33, 135.58, 224.8, 251.3, 339.5, 420.0]
green_bands = {'TI': [(14.74, 18.33)], 'TII': [(129.07, 135.58)],
               'TIII': [(218.8, 221.0), (242.4, 246.6), (248.3, 249.6)],
               'TIV': [(337.3, 342.6)], 'TV': [(425.7, 430.9)]}
pink_main = {'TI': (7.15, 18.33), 'TII': (128.55, 135.58)}
pink_lower = {'TIII': [(216.6, 222.4), (239.4, 250.3)], 'TIV': [(329.0, 342.8)], 'TV': [(409.9, 430.7)]}

GREEN = '#4c9a12'
ORANGE = '#ffa500'
BLUE = '#1414f5'
RED = '#ff3434'
GREY = '#7f7f7f'
FS = 13

W, H = 1932, 949
fig = plt.figure(figsize=(W / 100, H / 100), dpi=100)


def box(x0, y0, x1, y1):
    return [x0 / W, 1 - y1 / H, (x1 - x0) / W, (y1 - y0) / H]


def ftext(x, y, s, color='black', rot=0, size=FS, **kw):
    fig.text(x / W, 1 - y / H, s, color=color, rotation=rot, fontsize=size,
             ha='center', va='center', **kw)


def frame(x0, y0, x1, y1, xlim, xmaj, xmin, labeltop=True):
    ax = fig.add_axes(box(x0, y0, x1, y1))
    ax.set_xticks(xmaj)
    ax.set_xticks(xmin, minor=True)
    ax.set_xlim(*xlim)
    ax.set_ylim(0, 1)
    ax.set_yticks([])
    ax.tick_params(axis='x', which='both', direction='out', top=True, bottom=True,
                   labeltop=labeltop, labelbottom=True, width=1.2, labelsize=FS, pad=3)
    ax.tick_params(axis='x', which='major', length=8)
    ax.tick_params(axis='x', which='minor', length=5)
    for s in ax.spines.values():
        s.set_linewidth(1.2)
    return ax


def twin(ax, ylim, ticks, side, labelcolor, fmt=None, minor=None, bounds=None):
    t = ax.twinx()
    for s in t.spines.values():
        s.set_visible(False)
    if side == 'left':
        t.yaxis.tick_left()
    else:
        t.yaxis.tick_right()
    t.set_yticks(ticks)
    if minor is not None:
        t.set_yticks(minor, minor=True)
    if fmt:
        t.yaxis.set_major_formatter(FormatStrFormatter(fmt))
    t.set_ylim(*ylim)
    t.tick_params(axis='y', which='both', direction='out', width=1.2, length=8,
                  labelsize=FS, labelcolor=labelcolor, pad=3)
    if bounds is not None:
        sp = t.spines[side]
        sp.set_visible(True)
        sp.set_linewidth(1.2)
        sp.set_bounds(*bounds)
    return t


def overlay(ax):
    t = ax.twinx()
    t.set_ylim(0, 1)
    t.set_yticks([])
    for s in t.spines.values():
        s.set_visible(False)
    return t


def line(ax, d, color, marker=True, lw=1.3):
    ax.plot(d[:, 0], d[:, 1], color=color, lw=lw, marker='o' if marker else None,
            ms=2.6, mew=0)


SPEL_LIM = (15.09, -11.58)
SPEL_TICKS = [-10, -8, -6, -4]
GB_SPLIT = (631 - 224) / 524.0


def main_column(x0, x1, xlim, xmaj, xmin, spel, ird, ird_lim, ird_ticks, ird_minor,
                plank, pl_lim, pl_ticks, pl_fmt, ben, ben_lim, ben_ticks, ben_color,
                key, bottom_label):
    ax = frame(x0, 107, x1, 631, xlim, xmaj, xmin)
    a_sp = twin(ax, SPEL_LIM, SPEL_TICKS, 'left', GREEN)
    line(a_sp, spel, GREEN, marker=False, lw=1.7)
    a_ird = twin(ax, ird_lim, ird_ticks, 'right', ORANGE, minor=ird_minor)
    line(a_ird, ird, ORANGE)
    a_pl = twin(ax, pl_lim, pl_ticks, 'left', BLUE, fmt=pl_fmt)
    line(a_pl, plank, BLUE)
    a_be = twin(ax, ben_lim, ben_ticks, 'right', 'black', fmt='%.1f')
    line(a_be, ben, ben_color)
    sh = overlay(ax)
    for a, b in green_bands[key]:
        sh.axvspan(a, b, ymin=GB_SPLIT, ymax=1, color='#3fb46e', alpha=0.2, lw=0)
    if key in pink_main:
        a, b = pink_main[key]
        sh.axvspan(a, b, ymin=0, ymax=GB_SPLIT, color='red', alpha=0.17, lw=0)
        sh.text((a + b) / 2, 0.018, f'{round(b - a)}', color=RED, style='italic',
                fontsize=FS, ha='center', va='center')
    cx = (x0 + x1) / 2
    ftext(cx, 53, 'Age (ka)')
    if bottom_label:
        ftext(cx, 679, 'Age (ka)')
    return sh


def onset_line(sh, top, low, y_break, y_join, text_dx):
    sh.plot([top, top, low, low], [1, y_break, y_join, 0], color=RED, ls=':', lw=1.0)
    sh.text(top + text_dx, 0.975, f'{round(top)}', color=RED, style='italic',
            fontsize=FS, ha='left', va='center')


def lower_column(x0, x1, xlim, xmaj, xmin, delta, lr04, lr_lim, lr_ticks, lr_bounds, key):
    ax = frame(x0, 681, x1, 888, xlim, xmaj, xmin, labeltop=False)
    ax.spines['left'].set_visible(False)
    ax.spines['right'].set_visible(False)
    a_d = twin(ax, (-0.570, 0.304), [-0.2, -0.1, 0.0, 0.1, 0.2, 0.3], 'left', GREY,
               fmt='%.1f', bounds=(-0.26, 0.304))
    x, y = delta[:, 0], delta[:, 1]
    a_d.fill_between(x, 0, y, where=y >= 0, interpolate=True, color='#c9c9c9', lw=0)
    a_d.fill_between(x, 0, y, where=y <= 0, interpolate=True, color='#6c6c6c', lw=0)
    a_l = twin(ax, lr_lim, lr_ticks, 'right', GREY, fmt='%.1f', bounds=lr_bounds)
    line(a_l, lr04, GREY, lw=1.3)
    sh = overlay(ax)
    for a, b in pink_lower[key]:
        sh.axvspan(a, b, color='red', alpha=0.17, lw=0)
        sh.text((a + b) / 2, 0.928, f'{round(b - a)}', color=RED, style='italic',
                fontsize=FS, ha='center', va='center')
    ftext((x0 + x1) / 2, 935, 'Age (ka)')


# ---- TI ----
sh1 = main_column(144, 352, (5, 25), [5, 10, 15, 20, 25], [], ti_spel,
                  ti_ird, (-120.7, 84.0), [0, 10, 20, 30, 40, 50], None,
                  ti_sw, (4.58, -3.96), [-0.5, 0.0, 0.5, 1.0, 1.5, 2.0, 2.5], '%.1f',
                  ti_ben, (5.52, -0.627), [3.5, 4.0, 4.5, 5.0, 5.5], 'black', 'TI', True)
onset_line(sh1, onsets[0], onset_lower[0], GB_SPLIT, GB_SPLIT, 0.2)

# ---- TII ----
sh2 = main_column(516, 723, (120, 145), [120, 125, 130, 135, 140, 145], [], tii_spel,
                  tii_ird, (-1202, 836.6), [0, 100, 200, 300, 400, 500], None,
                  tii_plank, (5.18, -4.35), [-0.5, 0.0, 0.5, 1.0, 1.5, 2.0, 2.5], '%.1f',
                  tii_ben, (5.51, -2.31), [3.0, 3.5, 4.0, 4.5, 5.0, 5.5], 'black', 'TII', True)
onset_line(sh2, onsets[1], onset_lower[1], GB_SPLIT, GB_SPLIT, 0.15)

# ---- TIII ----
sh3 = main_column(887, 1095, (200, 260), [200, 220, 240, 260], [210, 230, 250], tiii_spel,
                  tiii_ird, (-146, 101.6), [0, 20, 40, 60], [10, 30, 50],
                  tiii_plank, (7.67, -4.38), [1, 2, 3, 4], '%d',
                  tiii_ben, (4.87, -2.61), [2.5, 3.0, 3.5, 4.0, 4.5], '#333333', 'TIII', False)
onset_line(sh3, onsets[2], onset_lower[2], GB_SPLIT, (631 - 237) / 524, 2.2)
onset_line(sh3, onsets[3], onset_lower[3], GB_SPLIT, (631 - 237) / 524, 0.6)
lower_column(887, 1095, (200, 260), [200, 220, 240, 260], [210, 230, 250],
             tiii_delta, tiii_lr04, (5.058, 2.126), [3.5, 4.0, 4.5, 5.0], (3.16, 5.058), 'TIII')

# ---- TIV ----
sh4 = main_column(1259, 1471, (300, 360), [300, 320, 340, 360], [310, 330, 350], tiv_spel,
                  tiv_ird, (-278.4, 193.7), [0, 20, 40, 60, 80, 100], None,
                  tiv_plank, (7.67, -4.38), [1, 2, 3, 4], '%d',
                  tiv_ben, (4.87, -2.61), [2.5, 3.0, 3.5, 4.0, 4.5], '#333333', 'TIV', False)
onset_line(sh4, onsets[4], onset_lower[4], (631 - 219) / 524, (631 - 245) / 524, 0.4)
lower_column(1259, 1471, (300, 360), [300, 320, 340, 360], [310, 330, 350],
             tiv_delta, tiv_lr04, (5.0, 1.607), [3.0, 3.5, 4.0, 4.5, 5.0], (2.80, 5.0), 'TIV')

# ---- TV ----
sh5 = main_column(1631, 1842, (390, 450), [400, 420, 440], [390, 410, 430, 450], tv_spel,
                  tv_ird, (-278.4, 193.7), [0, 20, 40, 60, 80, 100], None,
                  tv_plank, (7.67, -4.38), [1, 2, 3, 4], '%d',
                  tv_ben, (4.87, -2.61), [2.5, 3.0, 3.5, 4.0, 4.5], '#333333', 'TV', False)
onset_line(sh5, onsets[5], onset_lower[5], (631 - 220) / 524, (631 - 243) / 524, 0.4)
lower_column(1631, 1842, (390, 450), [400, 420, 440], [390, 410, 430, 450],
             tv_delta, tv_lr04, (5.196, 1.5), [3.0, 3.5, 4.0, 4.5, 5.0], (2.82, 5.196), 'TV')

# ---- axis titles ----
spel_lab = 'Spel. δ$^{18}$O (‰ V-PDB)'
plank_lab = 'Planktic δ$^{18}$O (‰)'
ben_lab = 'Benthic δ$^{18}$O (‰)'
for xl in (87, 458, 832, 1204, 1575):
    ftext(xl, 185, spel_lab, GREEN, 90)
ftext(77, 412, 'δ$^{18}$O$_{\\mathrm{seawater}}$ (‰)', BLUE, 90)
for xl in (450, 840, 1212, 1584):
    ftext(xl, 412, plank_lab, BLUE, 90)
for xr in (413, 1155, 1531, 1902):
    ftext(xr, 256, '% IRD', ORANGE, 270)
ftext(795, 258, 'IRD (grains g$^{-1}$, >90µm)', ORANGE, 270)
for xr in (410, 787, 1157, 1531, 1902):
    ftext(xr, 538, ben_lab, 'black', 270)
for xl in (829, 1201, 1573):
    ftext(xl, 735, 'LR04 Δδ$^{18}$O (‰)', GREY, 90)
for xr in (1157, 1531, 1902):
    ftext(xr, 830, 'LR04 δ$^{18}$O (‰)', GREY, 270)

# ---- column titles and row letters ----
serif = ['Liberation Serif', 'DejaVu Serif']
for xc, s in ((248, 'TI'), (619, 'TII'), (957, 'TIIIa'), (1028, 'TIII'),
              (1372, 'TIV'), (1740, 'TV')):
    ftext(xc, 18, s, size=21, family=serif)
for yc, s in ((158, 'a'), (290, 'b'), (415, 'c'), (555, 'd'), (747, 'e'), (845, 'f')):
    ftext(20, yc, s, size=24, weight='bold')

fig.savefig('out.png', dpi=100)
